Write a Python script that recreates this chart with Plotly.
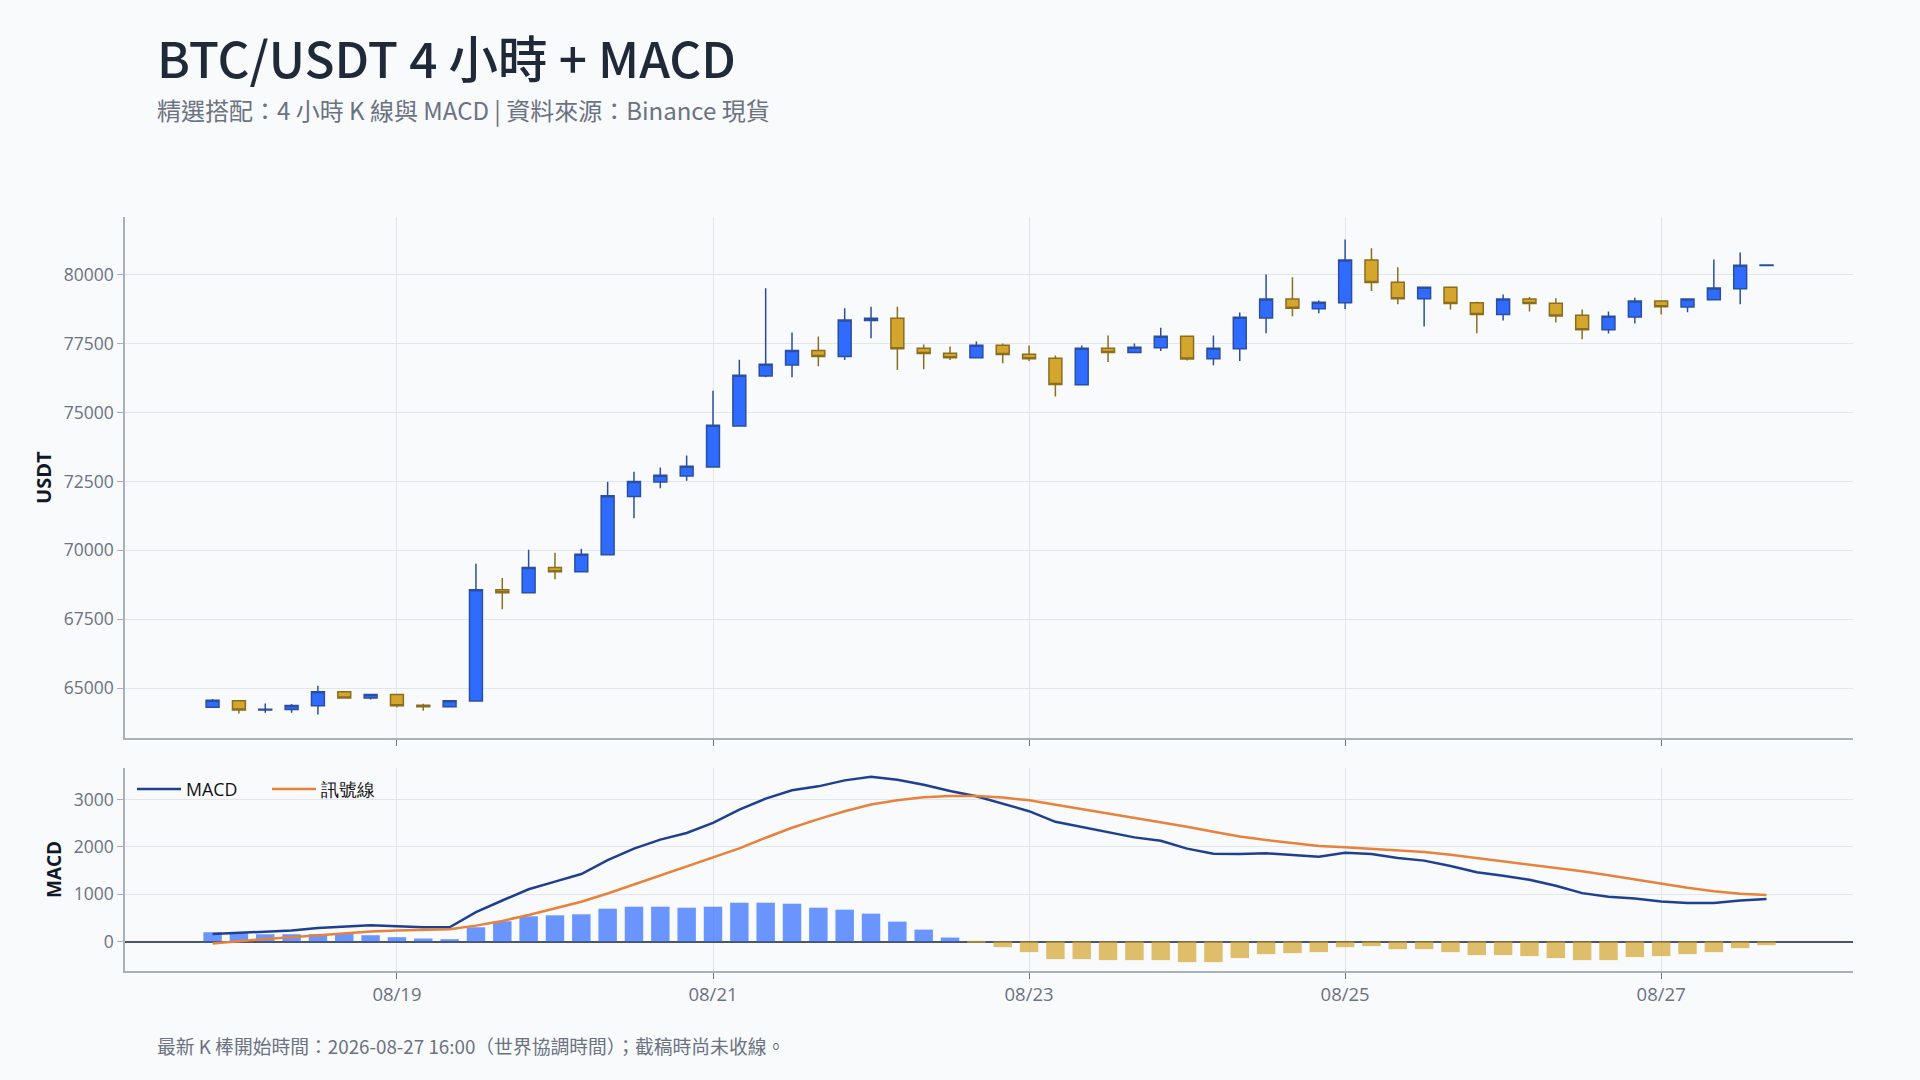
import pandas as pd
import plotly.graph_objects as go

# ---------------- data ----------------
start_time = "2026-08-17 20:00"
n_bars = 60
times = pd.date_range(start_time, periods=n_bars, freq="4h")

opens = [64312, 64550, 64212, 64225, 64362, 64875, 64650, 64775, 64387, 64325,
         64537, 68575, 68462, 69375, 69225, 69837, 71950, 72475, 72700, 73025,
         74512, 76325, 76725, 77250, 77025, 78337, 78412, 77325, 77150, 76987,
         77437, 77112, 76962, 76000, 77325, 77175, 77350, 77762, 76950, 77312,
         78425, 79112, 78762, 78975, 80525, 79725, 79125, 79537, 78975, 78550,
         79112, 78962, 78525, 78000, 78462, 79037, 78825, 79087, 79487, 80330]
highs = [64612, 64575, 64450, 64425, 65087, 64890, 64800, 64790, 64437, 64575,
         69512, 68999, 70025, 69912, 70062, 72487, 72850, 73000, 73437, 75787,
         76912, 79500, 77900, 77750, 78775, 78837, 78837, 77462, 77387, 77575,
         77500, 77425, 77062, 77425, 77787, 77500, 78075, 77770, 77787, 78625,
         80000, 79900, 79062, 81275, 80950, 80262, 79550, 79550, 79012, 79275,
         79187, 79137, 78737, 78662, 79162, 79050, 79125, 80550, 80800, 80350]
lows = [64287, 64087, 64112, 64112, 64050, 64640, 64587, 64300, 64187, 64320,
        64520, 67862, 68450, 68950, 69210, 69830, 71162, 72250, 72525, 73020,
        74510, 76275, 76275, 76675, 76900, 77687, 76537, 76562, 76900, 76962,
        76787, 76862, 75575, 75987, 76825, 77162, 77225, 76887, 76712, 76862,
        77875, 78487, 78600, 78750, 79400, 78925, 78112, 78737, 77875, 78337,
        78662, 78262, 77650, 77862, 78225, 78550, 78637, 79075, 78925, 80325]
closes = [64562, 64212, 64237, 64375, 64875, 64650, 64775, 64362, 64325, 64550,
          68575, 68462, 69375, 69225, 69862, 71975, 72500, 72725, 73050, 74537,
          76350, 76750, 77250, 77025, 78350, 78412, 77312, 77137, 76987, 77437,
          77100, 76950, 76012, 77325, 77175, 77362, 77762, 76937, 77325, 78450,
          79112, 78775, 79000, 80525, 79712, 79125, 79537, 78950, 78550, 79112,
          78950, 78500, 78000, 78487, 79037, 78837, 79112, 79512, 80337, 80345]

macd = [161, 185, 210, 231, 287, 322, 343, 322, 301, 301,
        622, 867, 1105, 1266, 1427, 1720, 1965, 2154, 2294, 2509,
        2790, 3021, 3196, 3280, 3406, 3484, 3420, 3315, 3182, 3070,
        2916, 2755, 2530, 2425, 2313, 2201, 2131, 1963, 1857, 1850,
        1864, 1836, 1794, 1878, 1850, 1766, 1710, 1598, 1465, 1388,
        1304, 1178, 1023, 946, 911, 848, 813, 813, 869, 897]
signal = [-42, 14, 56, 91, 133, 175, 210, 231, 245, 259,
          336, 435, 561, 694, 841, 1016, 1206, 1395, 1584, 1773,
          1970, 2194, 2404, 2586, 2755, 2895, 2986, 3049, 3077, 3077,
          3042, 2986, 2895, 2804, 2713, 2614, 2523, 2425, 2320, 2222,
          2145, 2075, 2019, 1991, 1963, 1935, 1892, 1836, 1766, 1703,
          1640, 1570, 1486, 1402, 1311, 1220, 1135, 1065, 1009, 981]
hist = [196, 175, 154, 154, 154, 175, 133, 91, 63, 49,
        301, 428, 533, 554, 575, 694, 736, 736, 715, 736,
        820, 820, 799, 715, 673, 589, 421, 252, 84, -14,
        -119, -224, -371, -371, -393, -393, -393, -435, -435, -350,
        -266, -245, -224, -119, -98, -161, -161, -224, -287, -287,
        -308, -350, -393, -393, -329, -308, -266, -224, -140, -77]

tick_format = "%m/%d"
title_text = "BTC/USDT 4 小時 + MACD"
subtitle_text = "精選搭配：4 小時 K 線與 MACD | 資料來源：Binance 現貨"
footer_text = "最新 K 棒開始時間：2026-08-27 16:00（世界協調時間）；截稿時尚未收線。"

# ---------------- style ----------------
BG = "#f8fafc"
GRID = "#e2e5ea"
AXIS = "#a9b0bb"
YTICK_FONT = dict(family="Open Sans", size=17.5, color="#6b7280")
XTICK_FONT = dict(family="Open Sans", size=18.5, color="#6b7280")
CJK = "Noto Sans CJK TC"
UP_FILL, UP_LINE = "#2f6bff", "#2b4f9f"
DN_FILL, DN_LINE = "#d4a62e", "#8b6d1e"

x_range = ["2026-08-17 06:42", "2026-08-28 05:08"]
four_h_ms = 4 * 3600 * 1000

# page geometry (pixels)
M_L, M_R, M_T, M_B = 125, 67, 217, 109
PLOT_H = 1080 - M_T - M_B
PLOT_W = 1920 - M_L - M_R


def py(pix):
    return (1080 - M_B - pix) / PLOT_H


def px(pix):
    return (pix - M_L) / PLOT_W


fig = go.Figure()

fig.add_trace(go.Candlestick(
    x=times, open=opens, high=highs, low=lows, close=closes,
    increasing=dict(fillcolor=UP_FILL, line=dict(color=UP_LINE, width=1.5)),
    decreasing=dict(fillcolor=DN_FILL, line=dict(color=DN_LINE, width=1.5)),
    whiskerwidth=0, showlegend=False, name="K 線",
    xaxis="x", yaxis="y",
))

bar_colors = [UP_FILL if v >= 0 else DN_FILL for v in hist]
fig.add_trace(go.Bar(
    x=times, y=hist, marker=dict(color=bar_colors, line=dict(width=0)),
    opacity=0.7, width=[four_h_ms * 0.7] * n_bars,
    showlegend=False, name="柱狀圖", xaxis="x2", yaxis="y2",
))
fig.add_trace(go.Scatter(
    x=times, y=macd, mode="lines", name="MACD",
    line=dict(color="#1f3f8f", width=2.5), xaxis="x2", yaxis="y2",
))
fig.add_trace(go.Scatter(
    x=times, y=signal, mode="lines", name="訊號線",
    line=dict(color="#e8823a", width=2.5), xaxis="x2", yaxis="y2",
))

common_x = dict(
    type="date", range=x_range, tick0="2026-08-19", dtick=2 * 86400000,
    tickformat=tick_format, showgrid=True, gridcolor=GRID, gridwidth=1,
    showline=True, linecolor=AXIS, linewidth=1.5, ticks="outside",
    ticklen=6, tickcolor="#6b7280", tickfont=XTICK_FONT, zeroline=False,
)
common_y = dict(
    showgrid=True, gridcolor=GRID, gridwidth=1, showline=True, linecolor=AXIS,
    linewidth=1.5, ticks="outside", ticklen=6, tickcolor=AXIS,
    tickfont=YTICK_FONT, tickformat="d",
)

fig.update_layout(
    width=1920, height=1080,
    paper_bgcolor=BG, plot_bgcolor=BG,
    margin=dict(l=M_L, r=M_R, t=M_T, b=M_B),
    font=dict(family="Open Sans", color="#374151"),
    xaxis=dict(**common_x, domain=[0, 1], anchor="y", showticklabels=False,
               rangeslider=dict(visible=False)),
    xaxis2=dict(**common_x, domain=[0, 1], anchor="y2", matches="x"),
    yaxis=dict(**common_y, domain=[py(738.4), 1], range=[63181, 82087], dtick=2500,
               title=dict(text="USDT", standoff=7,
                          font=dict(family="Open Sans", size=20, color="#111827", weight=700))),
    yaxis2=dict(**common_y, domain=[0, py(767.8)], range=[-623, 3672], dtick=1000,
                zeroline=True, zerolinecolor="#4b5563", zerolinewidth=2,
                title=dict(text="MACD", standoff=7,
                           font=dict(family="Open Sans", size=19, color="#111827", weight=700))),
    legend=dict(orientation="h", x=px(132), y=py(771), xanchor="left", yanchor="top",
                itemwidth=44, entrywidth=76,
                bgcolor="rgba(0,0,0,0)", font=dict(family="Open Sans", size=17.8, color="#111111")),
    annotations=[
        dict(text=title_text, xref="paper", yref="paper", x=px(155), y=py(56),
             xanchor="left", yanchor="middle", showarrow=False,
             font=dict(family=CJK, size=49.5, color="#1f2937", weight=500)),
        dict(text=subtitle_text, xref="paper", yref="paper", x=px(155), y=py(109.5),
             xanchor="left", yanchor="middle", showarrow=False,
             font=dict(family=CJK, size=24, color="#6b7280")),
        dict(text=footer_text, xref="paper", yref="paper", x=px(155), y=py(1045),
             xanchor="left", yanchor="middle", showarrow=False,
             font=dict(family=CJK, size=18.8, color="#6b7280")),
    ],
)

fig.write_html(
    "out.html",
    config={"displayModeBar": False},
    post_script="document.body.style.margin='0';document.body.style.background='#f8fafc';",
)
